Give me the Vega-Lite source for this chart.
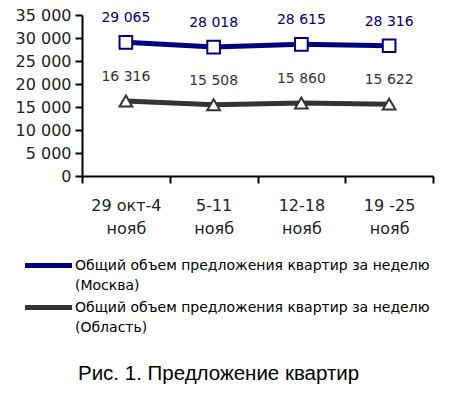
{
  "$schema": "https://vega.github.io/schema/vega-lite/v6.json",
  "width": 351,
  "height": 161,
  "autosize": {"type": "none"},
  "padding": {"left": 82, "top": 15, "right": 18, "bottom": 221},
  "config": {
    "locale": {"number": {"decimal": ",", "thousands": " ", "grouping": [3], "currency": ["", ""]}},
    "view": {"stroke": null},
    "font": "DejaVu Sans",
    "style": {"guide-label": {"lineHeight": 20}}
  },
  "title": {
    "text": "Рис. 1. Предложение квартир",
    "orient": "bottom",
    "anchor": "start",
    "frame": "group",
    "font": "Liberation Sans",
    "fontSize": 20.5,
    "fontWeight": "normal",
    "color": "#000000",
    "dx": -4,
    "offset": 29
  },
  "data": {
    "values": [
      {"week": "29 окт-4 нояб", "series": "Общий объем предложения квартир за неделю (Москва)", "value": 29065},
      {"week": "5-11 нояб", "series": "Общий объем предложения квартир за неделю (Москва)", "value": 28018},
      {"week": "12-18 нояб", "series": "Общий объем предложения квартир за неделю (Москва)", "value": 28615},
      {"week": "19 -25 нояб", "series": "Общий объем предложения квартир за неделю (Москва)", "value": 28316},
      {"week": "29 окт-4 нояб", "series": "Общий объем предложения квартир за неделю (Область)", "value": 16316},
      {"week": "5-11 нояб", "series": "Общий объем предложения квартир за неделю (Область)", "value": 15508},
      {"week": "12-18 нояб", "series": "Общий объем предложения квартир за неделю (Область)", "value": 15860},
      {"week": "19 -25 нояб", "series": "Общий объем предложения квартир за неделю (Область)", "value": 15622}
    ]
  },
  "encoding": {
    "x": {
      "field": "week",
      "type": "nominal",
      "sort": null,
      "scale": {"type": "band", "paddingInner": 0, "paddingOuter": 0},
      "axis": {
        "title": null,
        "labelAngle": 0,
        "labelFontSize": 16,
        "labelColor": "#222222",
        "labelPadding": 14,
        "labelLineHeight": 23,
        "labelExpr": "[substring(datum.label, 0, lastindexof(datum.label, ' ')), substring(datum.label, lastindexof(datum.label, ' ') + 1)]",
        "tickBand": "extent",
        "tickSize": 7,
        "tickWidth": 2,
        "tickColor": "#000000",
        "domainColor": "#000000",
        "domainWidth": 2,
        "grid": false
      }
    },
    "y": {
      "field": "value",
      "type": "quantitative",
      "scale": {"domain": [0, 35000]},
      "axis": {
        "title": null,
        "values": [0, 5000, 10000, 15000, 20000, 25000, 30000, 35000],
        "labelExpr": "format(datum.value, ',d')",
        "labelFontSize": 16,
        "labelColor": "#222222",
        "labelPadding": 4,
        "tickSize": 7,
        "tickWidth": 2,
        "tickColor": "#000000",
        "domainColor": "#000000",
        "domainWidth": 2,
        "grid": false
      }
    }
  },
  "layer": [
    {
      "mark": {"type": "line", "strokeWidth": 5},
      "encoding": {
        "color": {
          "field": "series",
          "type": "nominal",
          "scale": {"range": ["#00007f", "#333333"]},
          "legend": {
            "title": null,
            "orient": "none",
            "legendX": -48,
            "legendY": 236,
            "symbolType": "M-2,0H2",
            "symbolSize": 552,
            "symbolStrokeWidth": 5,
            "labelFontSize": 14,
            "labelColor": "#000000",
            "labelLimit": 400,
            "labelOffset": 12,
            "labelExpr": "[substring(datum.label, 0, lastindexof(datum.label, ' ')), substring(datum.label, lastindexof(datum.label, ' ') + 1)]",
            "rowPadding": -3
          }
        }
      }
    },
    {
      "mark": {"type": "point", "filled": true, "fill": "white", "strokeWidth": 2, "opacity": 1},
      "encoding": {
        "shape": {
          "field": "series",
          "type": "nominal",
          "scale": {"range": ["square", "triangle-up"]},
          "legend": null
        },
        "stroke": {
          "field": "series",
          "type": "nominal",
          "scale": {"range": ["#00007f", "#333333"]},
          "legend": null
        },
        "size": {"value": 160}
      }
    },
    {
      "mark": {"type": "text", "dy": -24, "fontSize": 14},
      "encoding": {
        "text": {"field": "value", "type": "quantitative", "format": ","},
        "color": {
          "field": "series",
          "type": "nominal",
          "scale": {"range": ["#1a1a80", "#333333"]},
          "legend": null
        }
      }
    }
  ]
}
